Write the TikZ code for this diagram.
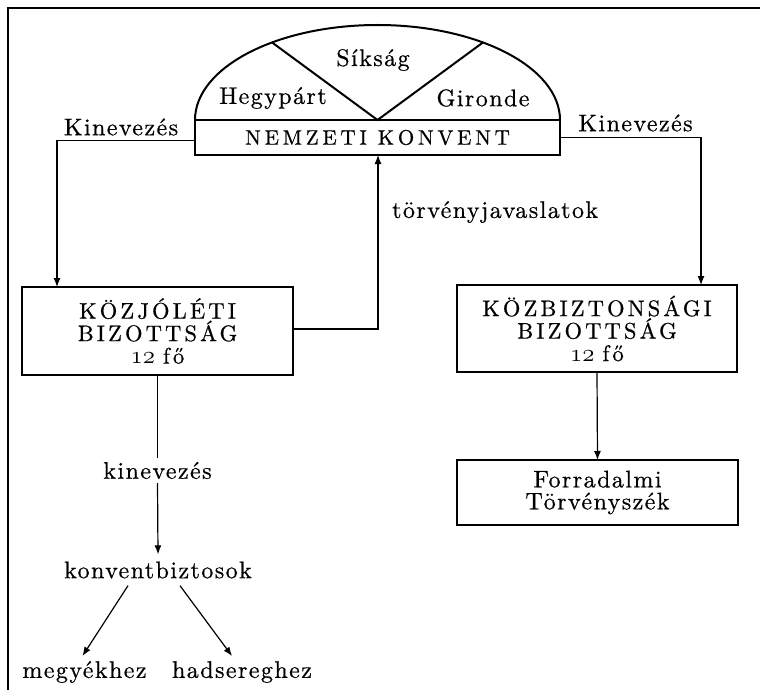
\documentclass[tikz,border=0pt]{standalone}
\usepackage{fontspec}
\setmainfont{lmroman10-regular.otf}
\newfontfamily\lowfont{lmroman10-regular.otf}[LetterSpace=6,FakeBold=0.6]
\newfontfamily\capfont{lmroman10-regular.otf}[LetterSpace=14,FakeBold=0.6]
\newfontfamily\konvfont{lmroman10-regular.otf}[LetterSpace=18,FakeBold=0.6]
\newcommand\osnum[1]{{\fontsize{24}{24}\usefont{OML}{lmm}{m}{it}#1}}
\usetikzlibrary{arrows.meta,calc}
\begin{document}
\begin{tikzpicture}[x=1pt,y=1pt,
  box/.style={draw, line width=2pt, outer sep=0pt, align=center, inner sep=0pt},
  conn/.style={line width=1.2pt},
  arr/.style={conn, -{Latex[length=9pt,width=7pt]}},
  low/.style={font=\fontsize{24}{22}\lowfont, inner sep=4pt, align=center},
  caps/.style={font=\fontsize{22.5}{22.5}\capfont, align=center}]
\useasboundingbox (0,0) rectangle (760,-690);
% frame
\draw[line width=1.5pt] (8,-690) -- (8,-8) -- (760,-8);
% convention
\node[box, font=\fontsize{21}{21}\konvfont, minimum width=365pt, minimum height=35pt] (konv) at (377.5,-137.5) {NEMZETI KONVENT};
\draw[line width=2pt] (konv.north west) arc[start angle=180, end angle=0, x radius=182.5, y radius=95];
\coordinate (dl) at ($(konv.north)+(125.3:182.5 and 95)$);
\coordinate (dr) at ($(konv.north)+(54.7:182.5 and 95)$);
\draw[line width=2pt] (dl) -- (konv.north) -- (dr);
\node[low] (sik) at (373,-60) {Síkság};
\node[low] (hegy) at (273,-98) {Hegypárt};
\node[low] (gir) at (483,-98) {Gironde};
% committees
\node[box, caps, minimum width=271pt, minimum height=88pt] (kozjo) at (157.5,-331) {KÖZJÓLÉTI\\BIZOTTSÁG\\\osnum{12}\hspace{0.35em}fő};
\node[box, caps, minimum width=280pt, minimum height=87pt] (kozbiz) at (597,-328.5) {KÖZBIZTONSÁGI\\BIZOTTSÁG\\\osnum{12}\hspace{0.35em}fő};
\node[box, low, inner sep=0pt, minimum width=281pt, minimum height=65pt] (forr) at (597.5,-492.5) {Forradalmi\\Törvényszék};
% labels
\node[low] (kinL) at (121,-127) {Kinevezés};
\node[low] (kinR) at (635.5,-123) {Kinevezés};
\node[low, anchor=west] (torv) at (388,-212) {törvényjavaslatok};
\node[low] (kin2) at (157.5,-470.5) {kinevezés};
\node[low, inner sep=7pt] (kb) at (158,-570) {konventbiztosok};
\node[low, inner sep=5pt] (megy) at (84.5,-672) {megyékhez};
\node[low, inner sep=5pt] (hads) at (242,-672) {hadsereghez};
% connectors
\draw[arr] ($(konv.west)+(0,-3)$) -| ($(kozjo.north west)+(35,0)$);
\draw[arr] (konv.east) -| ($(kozbiz.north west)+(244,0)$);
\draw[arr] ($(kozjo.east)+(0,2)$) -| ($(konv.south)+(0.5,0)$);
\draw[conn] (kozjo.south) -- (kin2.north);
\draw[arr] (kin2.south) -- (kb.north);
\draw[arr] ($(kb.south)+(-30,0)$) -- ($(megy.north)+(-2,0)$);
\draw[arr] ($(kb.south)+(22,0)$) -- ($(hads.north)+(-10,0)$);
\draw[arr] (kozbiz.south) -- (forr.north);
\end{tikzpicture}
\end{document}
